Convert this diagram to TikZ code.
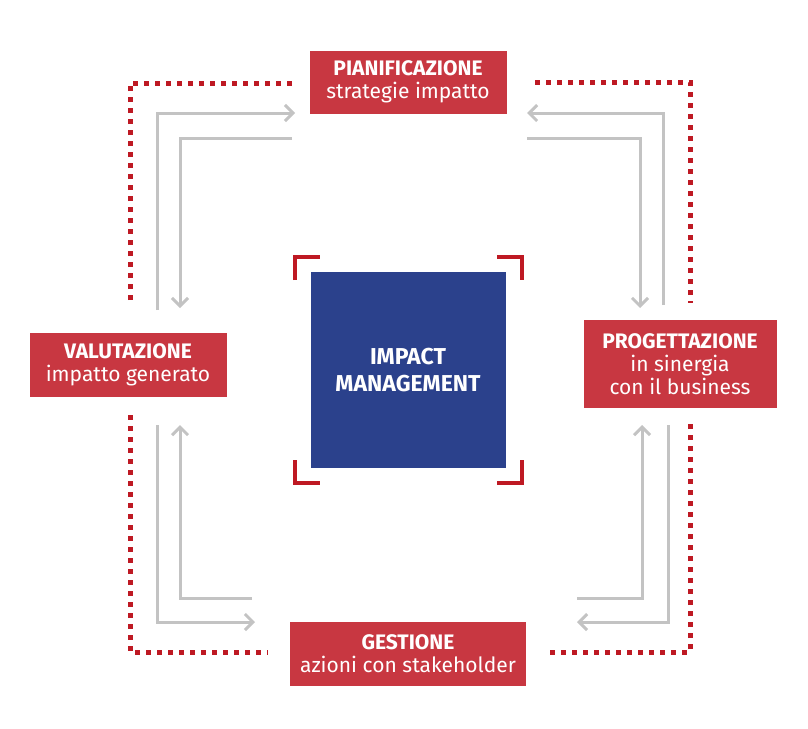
\documentclass[tikz,border=0pt]{standalone}
\usepackage{fontspec}
\setmainfont{Fira Sans}
\usetikzlibrary{arrows.meta,positioning}
\definecolor{boxred}{RGB}{200,55,65}
\definecolor{dotred}{RGB}{190,25,35}
\definecolor{impblue}{RGB}{43,65,140}
\definecolor{arrgrey}{RGB}{195,195,195}
\tikzset{
  phase/.style={fill=boxred,text=white,align=center,inner sep=0pt,font=\fontsize{21}{23}\selectfont},
  loopline/.style={draw=dotred,line width=5pt,dash pattern=on 5pt off 6pt},
  flow/.style={draw=arrgrey,line width=3pt,-{Straight Barb[length=8pt,width=16pt]}},
  bracket/.style={draw=dotred,line width=4pt}
}
\begin{document}
\begin{tikzpicture}[x=1pt,y=-1pt]
\useasboundingbox (0,0) rectangle (808,728);
% phases
\node[phase,minimum width=197pt,minimum height=63pt] (pian) at (408,82) {\textbf{PIANIFICAZIONE}\\strategie impatto};
\node[phase,minimum width=197pt,minimum height=64pt] (val) at (128,365) {\textbf{VALUTAZIONE}\\impatto generato};
\node[phase,minimum width=193pt,minimum height=88pt] (prog) at (680,364) {\textbf{PROGETTAZIONE}\\in sinergia\\con il business};
\node[phase,minimum width=236pt,minimum height=64pt] (gest) at (408,654) {\textbf{GESTIONE}\\azioni con stakeholder};
% centre
\node[fill=impblue,text=white,minimum width=195pt,minimum height=196pt,align=center,font=\bfseries\fontsize{23}{27}\selectfont] (imp) at (408,370) {IMPACT\\MANAGEMENT};
\draw[bracket] (295,280) -- (295,257) -- (320,257);
\draw[bracket] (497,257) -- (522,257) -- (522,280);
\draw[bracket] (295,460) -- (295,483) -- (320,483);
\draw[bracket] (497,483) -- (522,483) -- (522,460);
% dotted loop
\draw[loopline] (130,300) -- (130,83) -- (293,83);
\draw[loopline] (535,82) -- (690,82) -- (690,303);
\draw[loopline] (130,415) -- (130,652) -- (268,652);
\draw[loopline] (550,652) -- (690,652) -- (690,420);
% grey flows
\draw[flow] (157,310) -- (157,113) -- (295,113);
\draw[flow] (292,138) -- (180,138) -- (180,308);
\draw[flow] (663,305) -- (663,113) -- (527,113);
\draw[flow] (527,138) -- (640,138) -- (640,308);
\draw[flow] (252,598) -- (180,598) -- (180,425);
\draw[flow] (157,425) -- (157,622) -- (255,622);
\draw[flow] (577,598) -- (642,598) -- (642,425);
\draw[flow] (668,425) -- (668,622) -- (577,622);
\end{tikzpicture}
\end{document}
